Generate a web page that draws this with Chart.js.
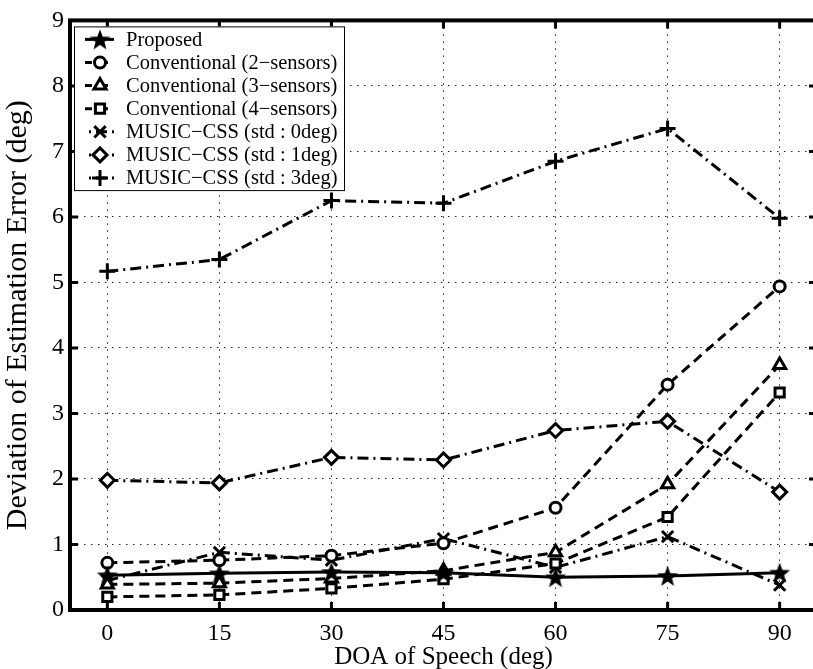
<!DOCTYPE html>
<html>
<head>
<meta charset="utf-8">
<script src="https://cdn.jsdelivr.net/npm/chart.js@4/dist/chart.umd.min.js"></script>
<style>
  html, body { margin:0; padding:0; background:#fff; overflow:hidden; }
  #wrap { width:830px; height:669px; }
</style>
</head>
<body>
<div id="wrap"><canvas id="doaChart" width="830" height="669"></canvas></div>
<script>
// DOA sweep (deg) and std-dev of estimation error (deg) per method
const doaAngles = [0, 15, 30, 45, 60, 75, 90];
const yTicks = [0, 1, 2, 3, 4, 5, 6, 7, 8, 9];
const seriesNames = [
  'Proposed',
  'Conventional (2\u2212sensors)',
  'Conventional (3\u2212sensors)',
  'Conventional (4\u2212sensors)',
  'MUSIC\u2212CSS (std : 0deg)',
  'MUSIC\u2212CSS (std : 1deg)',
  'MUSIC\u2212CSS (std : 3deg)'
];
const proposed   = [0.53, 0.56, 0.58, 0.57, 0.50, 0.52, 0.57];
const conv2      = [0.72, 0.76, 0.83, 1.02, 1.56, 3.44, 4.94];
const conv3      = [0.39, 0.41, 0.48, 0.60, 0.88, 1.92, 3.74];
const conv4      = [0.20, 0.23, 0.33, 0.47, 0.71, 1.42, 3.32];
const musicStd0  = [0.45, 0.88, 0.76, 1.09, 0.65, 1.12, 0.38];
const musicStd1  = [1.98, 1.94, 2.33, 2.29, 2.74, 2.88, 1.80];
const musicStd3  = [5.17, 5.35, 6.25, 6.21, 6.85, 7.35, 5.98];

const SERIF = "'Liberation Serif', 'Times New Roman', serif";
const DASHED = [10, 6];
const DASHDOT = [11, 5, 2, 5];

// filled five point star used as marker for the proposed method
function makeStar(size){
  const c = document.createElement('canvas');
  c.width = size; c.height = size;
  const g = c.getContext('2d');
  const cx = size/2, cy = size/2 + 1, R = size/2, r = R*0.42;
  g.beginPath();
  for(let i=0;i<10;i++){
    const rad = i%2===0 ? R : r;
    const a = -Math.PI/2 + i*Math.PI/5;
    const px = cx + rad*Math.cos(a), py = cy + rad*Math.sin(a);
    if(i===0) g.moveTo(px,py); else g.lineTo(px,py);
  }
  g.closePath();
  g.fillStyle = '#000';
  g.fill();
  return c;
}
const starMark = makeStar(22);

function xy(vals){ return vals.map((v,i)=>({x: doaAngles[i], y: v})); }

function series(label, vals, style, dash, radius, fill){
  return {
    label: label,
    data: xy(vals),
    borderColor: '#000',
    backgroundColor: fill || '#fff',
    borderWidth: 3,
    borderDash: dash,
    pointStyle: style,
    pointRadius: radius,
    pointBorderWidth: 3,
    pointBorderColor: '#000',
    pointBackgroundColor: fill || '#fff',
    tension: 0,
    fill: false
  };
}

const datasets = [
  series(seriesNames[0], proposed,  starMark,   [],      10, '#000'),
  series(seriesNames[1], conv2,     'circle',   DASHED,  5.5),
  series(seriesNames[2], conv3,     'triangle', DASHED,  7),
  series(seriesNames[3], conv4,     'rect',     DASHED,  6.5),
  series(seriesNames[4], musicStd0, 'crossRot', DASHDOT, 8),
  series(seriesNames[5], musicStd1, 'rectRot',  DASHDOT, 7),
  series(seriesNames[6], musicStd3, 'cross',    DASHDOT, 8)
];

// thick box, inward tick marks and legend inside the axes
const framePlugin = {
  id: 'frame',
  afterDraw(chart){
    const {ctx, chartArea:a, scales:{x, y}} = chart;
    ctx.save();
    ctx.strokeStyle = '#000';
    ctx.lineWidth = 3;
    ctx.setLineDash([]);
    const tl = 8;
    doaAngles.forEach(v=>{
      const px = x.getPixelForValue(v);
      ctx.beginPath();
      ctx.moveTo(px, a.bottom); ctx.lineTo(px, a.bottom - tl);
      ctx.moveTo(px, a.top); ctx.lineTo(px, a.top + tl);
      ctx.stroke();
    });
    yTicks.forEach(v=>{
      const py = y.getPixelForValue(v);
      ctx.beginPath();
      ctx.moveTo(a.left, py); ctx.lineTo(a.left + tl, py);
      ctx.moveTo(a.right, py); ctx.lineTo(a.right - tl, py);
      ctx.stroke();
    });
    ctx.lineWidth = 4;
    ctx.strokeRect(a.left, a.top, a.right - a.left, a.bottom - a.top);

    // legend
    const lx = a.left + 4, ly = a.top + 6, lw = 270, rowH = 23.1;
    const lh = rowH*datasets.length + 2;
    ctx.fillStyle = '#fff';
    ctx.fillRect(lx, ly, lw, lh);
    ctx.lineWidth = 1;
    ctx.strokeRect(lx + 0.5, ly + 0.5, lw, lh);
    ctx.font = '20.5px ' + SERIF;
    ctx.textBaseline = 'middle';
    ctx.textAlign = 'left';
    datasets.forEach((d,i)=>{
      const cy = ly + 13 + i*rowH;
      ctx.save();
      ctx.lineWidth = 3;
      ctx.setLineDash(d.borderDash);
      ctx.lineDashOffset = d.borderDash.length === 4 ? 12 : 3;
      ctx.beginPath();
      ctx.moveTo(lx + 11, cy); ctx.lineTo(lx + 40, cy);
      ctx.stroke();
      ctx.restore();
      ctx.save();
      ctx.lineWidth = d.pointBorderWidth;
      ctx.strokeStyle = '#000';
      ctx.fillStyle = d.pointBackgroundColor;
      Chart.helpers.drawPoint(ctx, {pointStyle: d.pointStyle, radius: d.pointRadius, rotation: 0, borderWidth: d.pointBorderWidth}, lx + 26, cy);
      ctx.restore();
      ctx.fillStyle = '#000';
      ctx.fillText(d.label, lx + 52, cy + 1);
    });
    ctx.restore();
  }
};

new Chart(document.getElementById('doaChart'), {
  type: 'line',
  data: { datasets: datasets },
  options: {
    responsive: false,
    animation: false,
    layout: { padding: { top: 17, right: 10, left: 0, bottom: 0 } },
    plugins: { legend: { display: false }, tooltip: { enabled: false } },
    scales: {
      x: {
        type: 'linear',
        min: -5, max: 95,
        afterBuildTicks(s){ s.ticks = doaAngles.map(v=>({value: v})); },
        afterFit(s){ s.height = 59; },
        grid: { color: '#222', lineWidth: 1, drawTicks: false },
        border: { display: false, dash: [1.5, 5.5] },
        ticks: { color: '#000', padding: 9, font: { family: SERIF, size: 24 } },
        title: { display: true, text: 'DOA of Speech (deg)', color: '#000',
                 font: { family: SERIF, size: 25 }, padding: { top: 0, bottom: -3 } }
      },
      y: {
        min: 0, max: 9,
        afterBuildTicks(s){ s.ticks = yTicks.map(v=>({value: v})); },
        afterFit(s){ s.width = 70; },
        grid: { color: '#222', lineWidth: 1, drawTicks: false },
        border: { display: false, dash: [1.5, 5.5] },
        ticks: { color: '#000', padding: 6, font: { family: SERIF, size: 24 } },
        title: { display: true, text: 'Deviation of Estimation Error (deg)', color: '#000',
                 font: { family: SERIF, size: 30 }, padding: { top: 0, bottom: 0 } }
      }
    }
  },
  plugins: [framePlugin]
});
</script>
</body>
</html>
